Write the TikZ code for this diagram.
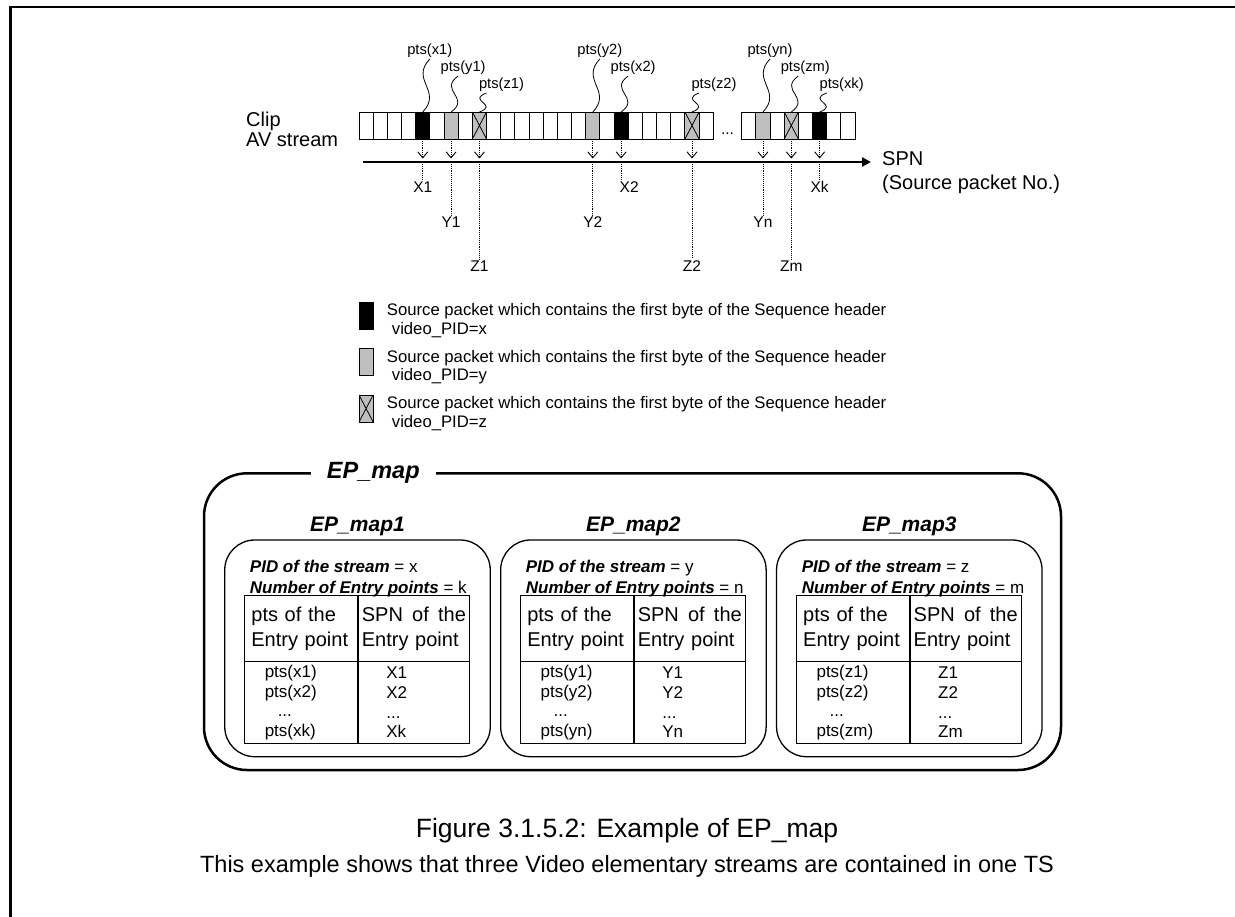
\documentclass[tikz,border=0pt]{standalone}
\usepackage{fontspec}
\setmainfont{Liberation Sans}
\usetikzlibrary{calc,positioning,arrows.meta}

\begin{document}
\begin{tikzpicture}[x=1pt,y=-1pt]
    \tikzstyle{pkt}=[draw,line width=0.9pt,minimum width=14.17pt,minimum height=27pt,inner sep=0pt,outer sep=0pt]
    \tikzstyle{blk}=[pkt,fill=black]
    \tikzstyle{gry}=[pkt,fill=gray!50]
    \tikzstyle{crs}=[pkt,fill=gray!50,path picture={\draw[line width=0.8pt] (path picture bounding box.north west) -- (path picture bounding box.south east) (path picture bounding box.south west) -- (path picture bounding box.north east);}]
    \tikzstyle{txt}=[inner sep=0pt,font=\fontsize{20}{24}\selectfont]
    \tikzstyle{lbl}=[inner sep=1.5pt,font=\fontsize{15.5}{18}\selectfont]
    \tikzstyle{ptslbl}=[inner sep=1pt,font=\fontsize{14.7}{17}\selectfont]
    \tikzstyle{legtxt}=[inner sep=0pt,anchor=base west,font=\fontsize{16.7}{20}\selectfont]
    \tikzstyle{wave}=[line width=0.8pt]
    \tikzstyle{drop}=[densely dotted,line width=0.9pt,-{Straight Barb[length=6pt,width=10pt]},shorten >=3.5pt]
    \tikzstyle{lead}=[densely dotted,line width=0.9pt]
    \tikzstyle{spnaxis}=[line width=2.2pt,-{Triangle[length=9pt,width=9pt]}]
    \tikzstyle{outerbox}=[draw,line width=2.5pt,rounded corners=43pt,minimum width=857pt,minimum height=296.7pt,outer sep=0pt]
    \tikzstyle{inbox}=[draw,line width=1.3pt,rounded corners=30pt,minimum width=265.5pt,minimum height=216.7pt,outer sep=0pt]
    \tikzstyle{bigttl}=[fill=white,inner xsep=16pt,inner ysep=2pt,font=\fontsize{23.5}{28}\selectfont\bfseries\itshape]
    \tikzstyle{subttl}=[inner sep=0pt,font=\fontsize{21}{25}\selectfont\bfseries\itshape]
    \tikzstyle{pidtxt}=[inner sep=0pt,font=\fontsize{17}{20}\selectfont]
    \tikzstyle{hdcell}=[draw,line width=1.3pt,minimum height=66pt,inner sep=0pt,outer sep=0pt,align=left,font=\fontsize{20}{25}\selectfont]
    \tikzstyle{dtcell}=[draw,line width=1.3pt,minimum height=81.6pt,inner sep=0pt,outer sep=0pt,align=left,font=\fontsize{17}{19.6}\selectfont]
    \tikzstyle{capt}=[inner sep=0pt,font=\fontsize{26.5}{30}\selectfont]
    \tikzstyle{capnote}=[inner sep=0pt,font=\fontsize{23.5}{28}\selectfont]

    \useasboundingbox (0,0) rectangle (1235,917);
    % frame
    \draw[line width=2.4pt] (10.5,917) -- (10.5,7) -- (1235,7);

    % clip AV stream
    \node[txt,anchor=base west] (clip) at (246,126.7) {Clip};
    \node[txt,anchor=base west] (avs) at (246,147) {AV stream};
    \foreach \i in {0,...,24}
        \node[pkt] (a\i) at (366.1+14.17*\i,125.5) {};
    \foreach \i in {0,...,7}
        \node[pkt] (b\i) at (748.8+14.17*\i,125.5) {};
    \node[lbl,anchor=base] (gap) at (727.5,135) {...};
    \node[blk] (x1) at (a4) {};
    \node[gry] (y1) at (a6) {};
    \node[crs] (z1) at (a8) {};
    \node[gry] (y2) at (a16) {};
    \node[blk] (x2) at (a18) {};
    \node[crs] (z2) at (a23) {};
    \node[gry] (yn) at (b1) {};
    \node[crs] (zm) at (b3) {};
    \node[blk] (xk) at (b5) {};

    \coordinate (ax0) at (363,162);
    \coordinate (ax1) at (871,162);
    \draw[spnaxis] (ax0) -- (ax1);
    \node[txt,anchor=base west] (spn) at (882,166) {SPN};
    \node[txt,anchor=base west] (spnsub) at (882,190) {(Source packet No.)};

    % pts of the marked packets
    \foreach \pk/\hh/\sh in {x1/53/0,y1/36/5,z1/19/15,y2/53/0,x2/36/5,z2/19/15,yn/53/0,zm/36/7,xk/19/15}
    {
        \coordinate (\pk-top) at ($(\pk.north)+(7,-\hh)$);
        \node[ptslbl,anchor=south] (p\pk) at ($(\pk-top)+(\sh,0)$) {pts(\pk)};
        \draw[wave] (\pk.north) .. controls +(20,-0.4*\hh) and +(-20,0.4*\hh) .. (\pk-top);
    }

    % SPN of the marked packets
    \coordinate (rowX) at (0,186.7);
    \coordinate (rowY) at (0,222.5);
    \coordinate (rowZ) at (0,266);
    \foreach \pk/\lab/\rw/\sh in {x1/X1/rowX/0,y1/Y1/rowY/0,z1/Z1/rowZ/0,y2/Y2/rowY/0,x2/X2/rowX/8,z2/Z2/rowZ/0,yn/Yn/rowY/0,zm/Zm/rowZ/0,xk/Xk/rowX/0}
    {
        \draw[drop] (\pk.south) -- (\pk.south |- ax0);
        \node[lbl] (\lab) at ($(\pk.south |- \rw)+(\sh,0)$) {\lab};
        \draw[lead] (\pk.south |- ax0) -- (\pk.south |- \lab.north);
    }

    % legend
    \foreach \yy/\st/\id in {316/blk/x,362.5/gry/y,409/crs/z}
    {
        \node[\st] (key\id) at (366.1,\yy-0.5) {};
        \node[legtxt] (keya\id) at (386.7,\yy) {Source packet which contains the first byte of the Sequence header};
        \node[legtxt] (keyb\id) at (391.7,\yy+18.3) {video\_PID=\id};
    }

    % EP_map
    \node[outerbox] (epmap) at (632.5,621.65) {};
    \node[bigttl] (epttl) at (373.3,472.5) {EP\_map};
    \node[inbox] (m1) at (357.5,648.35) {};
    \node[inbox,right=10.4pt of m1] (m2) {};
    \node[inbox,right=10.4pt of m2] (m3) {};
    \coordinate (ttl) at (0,531.7);
    \coordinate (pidrow) at (0,572.5);
    \coordinate (numrow) at (0,593);
    \coordinate (hdrow) at (0,628.7);
    \foreach \ii/\vv/\up/\cnt in {1/x/X/k,2/y/Y/n,3/z/Z/m}
    {
        \node[subttl,anchor=base] (t\ii) at (m\ii |- ttl) {EP\_map\ii};
        \node[pidtxt,anchor=base west] (pid\ii) at ($(m\ii.west |- pidrow)+(25,0)$) {\textbf{\textit{PID of the stream}} = \vv};
        \node[pidtxt,anchor=base west] (num\ii) at ($(m\ii.west |- numrow)+(25,0)$) {\textbf{\textit{Number of Entry points}} = \cnt};
        \node[hdcell,text width=100pt,minimum width=113.3pt] (ha\ii) at ($(m\ii.center |- hdrow)+(-56.1,0)$) {pts of the\\Entry point};
        \node[hdcell,text width=104pt,minimum width=111.7pt,right=0pt of ha\ii] (hb\ii) {\makebox[104pt][s]{SPN\hfill of\hfill the}\\Entry point};
        \node[dtcell,text width=73.3pt,minimum width=113.3pt,below=0pt of ha\ii] (da\ii) {pts(\vv1)\\pts(\vv2)\\\hspace*{13pt}...\\pts(\vv\cnt)};
        \node[dtcell,text width=55pt,minimum width=111.7pt,below=0pt of hb\ii] (db\ii) {\up1\\\up2\\...\\\up\cnt};
    }

    % caption
    \node[capt,anchor=base] (cap) at (627,837) {Figure 3.1.5.2: Example of EP\_map};
    \node[capnote,anchor=base] (capsub) at (627,872) {This example shows that three Video elementary streams are contained in one TS};
\end{tikzpicture}
\end{document}
